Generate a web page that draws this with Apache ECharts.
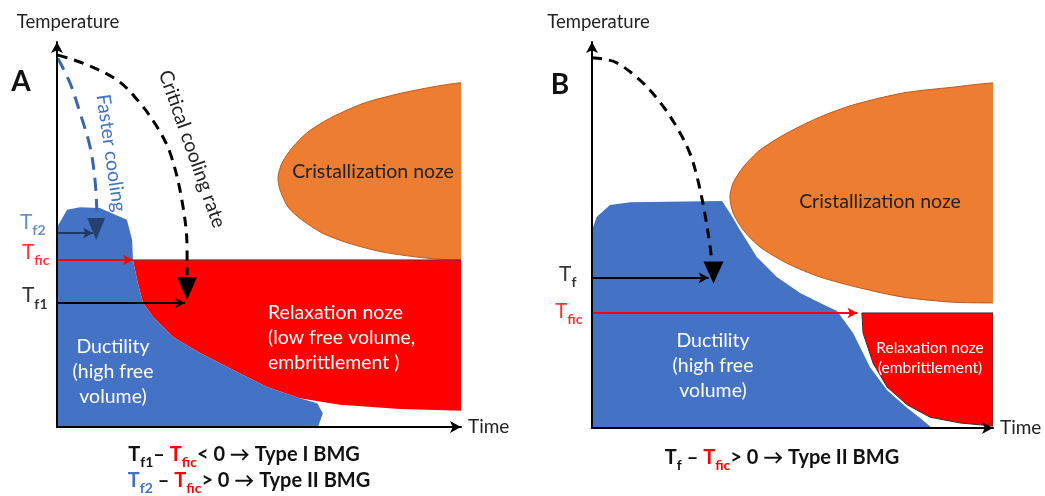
<!DOCTYPE html>
<html>
<head>
<meta charset="utf-8">
<script src="https://cdn.jsdelivr.net/npm/echarts@6/dist/echarts.min.js"></script>
<style>html,body{margin:0;padding:0;background:#fff}#c{width:1045px;height:496px}</style>
</head>
<body>
<div id="c"></div>
<script>
// ---------- DATA (arbitrary units: time 0..100, temperature 0..100) ----------
// Panel A
const blueA = [[0,0],[0,51.9],[2.5,56.4],[5.7,57.1],[10.6,56.9],[17.3,53.8],[18.6,48.6],[18.8,43.4],[20.0,37.4],[21.3,32.2],[23.8,28.6],[28.7,23.4],[35.4,19.2],[43.6,14.8],[52.0,10.4],[60.1,7.5],[64.4,6.2],[65.8,3.6],[64.6,0]];
const redA = [[18.8,43.4],[100,43.4],[100,4.2],[84.9,4.7],[70.0,5.8],[60.1,7.5],[52.0,10.4],[43.6,14.8],[35.4,19.2],[28.7,23.4],[23.8,28.6],[21.3,32.2],[20.0,37.4]];
const orangeA = [[100,89.4],[92.8,88.3],[84.4,86.5],[76.2,84.2],[68.1,80.5],[62.1,76.6],[58.2,72.5],[55.7,68.6],[54.7,64.9],[55.2,61.6],[57.2,57.1],[60.6,53.8],[65.6,50.4],[72.0,47.8],[80.4,45.5],[88.6,44.2],[94.3,43.6],[100,43.4],[112,43.4],[112,89.6]];
const criticalA = [[0.2,96.6],[6.4,94.5],[14.9,90.1],[20.5,84.2],[24.8,77.9],[28.0,71.2],[30.9,59.0],[32.2,46.0],[32.2,39.5]];
const fasterA = [[0.2,95.8],[3.2,89.4],[5.7,81.6],[8.2,72.7],[9.4,64.2],[9.9,55.6]];
const levelNamesA = ['f2','fic','f1'];
const levelValuesA = [50.4, 43.4, 32.2];
const arrowEndsA = [8.9, 18.8, 31.7];
const headCriticalA = [32.2, 36.0];
const headFasterA = [9.7, 51.4];
// Panel B
const blueB = [[0,0],[0,51.3],[1.2,54.7],[4.5,57.8],[9.5,58.5],[32.4,58.8],[34.4,55.7],[36.9,51.3],[41.1,44.3],[46.1,39.1],[51.9,35.0],[56.9,32.4],[61.1,30.3],[65.1,24.6],[69.3,15.8],[73.6,9.8],[78.6,5.2],[81.8,2.6],[84.8,0]];
const redB = [[67.3,29.8],[100,29.8],[100,0.5],[91.8,1.3],[84.3,2.8],[78.6,6.0],[73.6,10.6],[70.1,16.8],[67.6,24.6]];
const orangeB = [[100,89.4],[90.0,88.3],[77.6,86.8],[65.1,83.7],[56.9,80.6],[48.6,76.4],[41.9,72.0],[37.7,67.6],[35.2,63.5],[34.4,59.8],[35.2,55.7],[37.7,51.3],[41.9,46.9],[48.6,42.7],[56.9,39.1],[66.8,36.3],[77.6,33.9],[90.0,32.6],[100,32.4],[112,32.4],[112,89.4]];
const coolingB = [[0,95.9],[2.7,95.6],[6.2,94.6],[11.9,90.2],[16.9,84.5],[21.1,78.0],[24.4,71.2],[26.4,64.2],[28.2,55.2],[29.4,47.4],[29.9,43.0]];
const levelNamesB = ['f','fic'];
const levelValuesB = [38.9, 29.8];
const arrowEndsB = [29.1, 66.2];
const headB = [30.3, 40.3];

// ---------- STYLE ----------
const FONT = 'Lato, "Open Sans", sans-serif';
const BLUE = '#4472C4', RED = '#FF0000', ORANGE = '#ED7D31', NAVY = '#1F3864';

function poly(idx, pts, fill, stroke, lw, smooth, z) {
  return {
    type: 'custom', xAxisIndex: idx, yAxisIndex: idx, clip: true, silent: true, z: z,
    data: [[0, 0]],
    renderItem: function (p, api) {
      return { type: 'polygon', shape: { points: pts.map(function (q) { return api.coord(q); }), smooth: smooth },
        style: { fill: fill, stroke: stroke || null, lineWidth: lw || 0, lineJoin: 'round' } };
    }
  };
}
function dashed(idx, pts, color, dash) {
  return { type: 'line', xAxisIndex: idx, yAxisIndex: idx, data: pts, smooth: 0.35, showSymbol: false, silent: true, z: 6,
    lineStyle: { color: color, width: 3, type: dash } };
}
function head(idx, pt, color, size, opacity) {
  return { type: 'scatter', xAxisIndex: idx, yAxisIndex: idx, data: [pt], symbol: 'triangle', symbolRotate: 180,
    symbolSize: size, silent: true, z: 7, itemStyle: { color: color, opacity: opacity || 1 } };
}
function arrows(idx, values, ends, colors) {
  return { type: 'line', xAxisIndex: idx, yAxisIndex: idx, data: [], silent: true, z: 8,
    markLine: { silent: true, symbol: ['none', 'arrow'], symbolSize: [8, 10], label: { show: false }, animation: false,
      data: values.map(function (v, i) {
        return [{ coord: [0, v], lineStyle: { color: colors[i], width: 2, type: 'solid' } }, { coord: [ends[i], v] }];
      }) } };
}
function levelLabels(idx, names, values, colors, offsets) {
  return { type: 'scatter', xAxisIndex: idx, yAxisIndex: idx, symbolSize: 1, silent: true, z: 9,
    itemStyle: { color: 'rgba(0,0,0,0)' },
    data: names.map(function (n, i) {
      return { value: [0, values[i]], label: { show: true, position: 'left', distance: 7, offset: offsets[i],
        formatter: '{t|T}{s|' + n + '}',
        rich: { t: { fontFamily: FONT, fontSize: 21, color: colors[i], verticalAlign: 'bottom', padding: [0, 0, 5, 0] },
                s: { fontFamily: FONT, fontSize: 14, fontWeight: 'bold', color: colors[i], verticalAlign: 'bottom' } } } };
    }) };
}
function axisX(i) {
  return { gridIndex: i, type: 'value', min: 0, max: 100, z: 10, name: 'Time', nameLocation: 'end', nameGap: 7,
    nameTextStyle: { fontFamily: FONT, fontSize: 19, color: '#222', verticalAlign: 'middle', padding: [4, 0, 0, 0] },
    axisLine: { show: true, onZero: false, symbol: ['none', 'arrow'], symbolSize: [9, 11], lineStyle: { color: '#000', width: 2 } },
    axisTick: { show: false }, axisLabel: { show: false }, splitLine: { show: false } };
}
function axisY(i, pad) {
  return { gridIndex: i, type: 'value', min: 0, max: 100, z: 10, name: 'Temperature', nameLocation: 'end', nameGap: 10,
    nameTextStyle: { fontFamily: FONT, fontSize: 18.5, color: '#222', align: 'center', padding: [0, 0, 0, pad] },
    axisLine: { show: true, onZero: false, symbol: ['none', 'arrow'], symbolSize: [9, 11], lineStyle: { color: '#000', width: 2 } },
    axisTick: { show: false }, axisLabel: { show: false }, splitLine: { show: false } };
}
function rs(c, big) {
  return big
    ? { fontFamily: FONT, fontSize: 20, fontWeight: 'bold', fill: c, verticalAlign: 'bottom', padding: [0, 0, 5, 0] }
    : { fontFamily: FONT, fontSize: 14, fontWeight: 'bold', fill: c, verticalAlign: 'bottom' };
}
const rich = { k: rs('#111', true), ks: rs('#111', false), r: rs(RED, true), rs: rs(RED, false), b: rs(BLUE, true), bs: rs(BLUE, false) };
function txt(x, y, text, o) {
  o = o || {};
  return { type: 'text', x: x, y: y, rotation: o.rot || 0, silent: true, z: 20,
    style: { text: text, fill: o.color || '#222', fontFamily: FONT, fontSize: o.size || 19, fontWeight: o.weight || 'normal',
      align: o.align || 'center', verticalAlign: 'middle', lineHeight: o.lh || 25, rich: o.rich } };
}

const option = {
  animation: false,
  backgroundColor: '#fff',
  grid: [{ left: 57, top: 42, width: 404, height: 385 }, { left: 592, top: 42, width: 401, height: 386 }],
  xAxis: [axisX(0), axisX(1)],
  yAxis: [axisY(0, 22), axisY(1, 13)],
  series: [
    poly(0, orangeA, ORANGE, '#B85A1E', 1, 0.25, 2),
    poly(0, redA, RED, null, 0, 0, 3),
    poly(0, blueA, BLUE, null, 0, 0, 4),
    { type: 'line', xAxisIndex: 0, yAxisIndex: 0, data: [[arrowEndsA[1], levelValuesA[1]], [100, levelValuesA[1]]],
      showSymbol: false, silent: true, z: 5, lineStyle: { color: '#444', width: 1 } },
    dashed(0, criticalA, '#000', [10, 7]),
    dashed(0, fasterA, '#3A63B0', [13, 8]),
    head(0, headCriticalA, '#000', [20, 23]),
    head(0, headFasterA, NAVY, [18, 22], 0.85),
    arrows(0, levelValuesA, arrowEndsA, [NAVY, RED, '#000']),
    levelLabels(0, levelNamesA, levelValuesA, [BLUE, RED, '#000'], [[-4, -8], [0, -5], [-2, -5]]),

    poly(1, orangeB, ORANGE, '#B85A1E', 1, 0.25, 2),
    poly(1, redB, RED, '#333', 1, 0, 3),
    poly(1, blueB, BLUE, null, 0, 0, 4),
    dashed(1, coolingB, '#000', [10, 7]),
    head(1, headB, '#000', [20, 22]),
    arrows(1, levelValuesB, arrowEndsB, ['#000', RED]),
    levelLabels(1, levelNamesB, levelValuesB, ['#000', RED], [[-8, -1], [-2, 1]])
  ],
  graphic: [
    txt(21, 82, 'A', { size: 28, weight: 'bold', color: '#111' }),
    txt(560, 85, 'B', { size: 28, weight: 'bold', color: '#111' }),
    txt(111, 153, 'Faster cooling', { color: BLUE, rot: -1.43, size: 19.5 }),
    txt(192, 149, 'Critical cooling rate', { color: '#222', rot: -1.23, size: 19.5 }),
    txt(373, 172, 'Cristallization noze', { color: '#222', size: 19.5 }),
    txt(268, 338, 'Relaxation noze\n(low free volume,\nembrittlement )', { color: '#fff', align: 'left', size: 19.5 }),
    txt(113, 372, 'Ductility\n(high free\nvolume)', { color: '#fff', size: 19.5 }),
    txt(880, 202, 'Cristallization noze', { color: '#222', size: 19.5 }),
    txt(713, 366, 'Ductility\n(high free\nvolume)', { color: '#fff', size: 19.5 }),
    txt(930, 358, 'Relaxation noze\n(embrittlement)', { color: '#fff', size: 15.5, lh: 20 }),
    txt(244, 457, '{k|T}{ks|f1}{k|– }{r|T}{rs|fic}{k|< 0 → Type I BMG}', { rich: rich }),
    txt(249, 483, '{b|T}{bs|f2}{k| – }{r|T}{rs|fic}{k|> 0 → Type II BMG}', { rich: rich }),
    txt(782, 460, '{k|T}{ks|f}{k| – }{r|T}{rs|fic}{k|> 0 → Type II BMG}', { rich: rich })
  ]
};
const chart = echarts.init(document.getElementById('c'), null, { renderer: 'canvas' });
chart.setOption(option);
</script>
</body>
</html>
